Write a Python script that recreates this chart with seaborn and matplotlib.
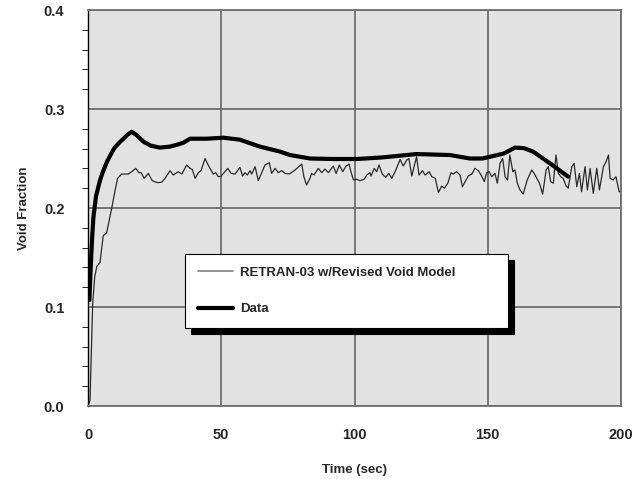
import pandas as pd
import seaborn as sns
import matplotlib.pyplot as plt
from matplotlib.ticker import MultipleLocator, FormatStrFormatter

# measured data (thick line)
data_t = [0.5, 1, 1.5, 2, 3, 4.5, 5.5, 7, 8.5, 10, 11.7, 13.3, 14.8, 16.4, 18.5,
          20.8, 23.5, 27, 30.7, 33.5, 35.8, 38.3, 44.6, 50.8, 57, 64.5, 72, 75.8,
          83.3, 92, 100.8, 110, 123.3, 135.8, 143.3, 148, 152, 156, 160.2, 163.5,
          167, 173.4, 180.2]
data_v = [0.107, 0.14, 0.168, 0.19, 0.212, 0.228, 0.236, 0.246, 0.254, 0.261, 0.266,
          0.270, 0.274, 0.277, 0.273, 0.267, 0.263, 0.261, 0.262, 0.264, 0.266,
          0.270, 0.270, 0.271, 0.269, 0.262, 0.257, 0.2535, 0.250, 0.2495,
          0.2495, 0.251, 0.2545, 0.2535, 0.250, 0.250, 0.2525, 0.255, 0.261,
          0.2605, 0.257, 0.245, 0.2316]

# RETRAN-03 calculation (thin line)
model_t = [0, 0.75, 1.75, 2.5, 3.3, 4.5, 5.7, 7, 8.9, 10.1, 11.1, 12.6, 15.1, 16.4,
           17.9, 19.1, 19.9, 21.1, 22.6, 24.1, 25.1, 26.1, 27.6, 28.9, 30.8, 32,
           33.9, 35.2, 37, 38.3, 39.1, 40.2, 41.4, 42.4, 43.9, 45.4, 47, 47.9, 48.9,
           49.9, 51.4, 52.4, 53.7, 55.2, 57, 58, 58.9, 59.8, 60.8, 61.4, 62.7, 63.9,
           65.2, 66.4, 68, 68.9, 70.2, 71.4, 72.7, 73.9, 75.5, 77.7, 80.2, 81, 82,
           83.3, 83.9, 84.8, 86.4, 87.7, 88.9, 90.2, 92, 93.1, 94.3, 95.6, 96.8, 98,
           98.5, 99.6, 100.8, 102, 103.6, 104.6, 105.8, 106.2, 107.4, 108.3, 109.2,
           110.4, 111.7, 112.9, 114, 115.4, 117.1, 118.3, 119.6, 120.4, 121.5, 122.5,
           123.3, 124.2, 125.5, 126.5, 128, 129, 130.3, 131.5, 132.7, 133.7, 135,
           136.2, 137, 138.3, 139.6, 140.5, 141.5, 142.7, 144, 145.2, 146.5, 147.7,
           148.7, 149.6, 150.5, 151.5, 152.7, 153.6, 154.6, 155.6, 156.5, 157.4,
           158.3, 159.4, 160.2, 161.1, 162.1, 163.3, 164.8, 166.5, 167.4, 168.4,
           169.4, 170.6, 171.9, 172.7, 173.6, 174.6, 175.6, 176.5, 177.4, 178.3,
           179.4, 180.2, 181.5, 182.4, 183.4, 184.4, 185.2, 186.5, 187.4, 188.4,
           189.6, 190.9, 191.9, 193.4, 194.4, 195.3, 195.9, 197, 198.1, 199.3, 200]
model_v = [0.0, 0.006, 0.104, 0.13, 0.141, 0.145, 0.172, 0.175, 0.200, 0.217, 0.230,
           0.2343, 0.2343, 0.2367, 0.240, 0.2357, 0.2357, 0.230, 0.235, 0.2276,
           0.2265, 0.2256, 0.226, 0.230, 0.2377, 0.2333, 0.2367, 0.2343, 0.2434,
           0.240, 0.239, 0.230, 0.2357, 0.2377, 0.250, 0.2417, 0.2343, 0.2357,
           0.2316, 0.232, 0.2367, 0.240, 0.235, 0.2343, 0.241, 0.2323, 0.2357,
           0.2333, 0.2377, 0.2343, 0.2417, 0.2276, 0.2357, 0.2434, 0.2458, 0.235,
           0.240, 0.2357, 0.2377, 0.235, 0.2343, 0.2384, 0.2444, 0.2316, 0.2232,
           0.230, 0.235, 0.2333, 0.240, 0.2357, 0.2394, 0.2357, 0.2424, 0.235,
           0.2434, 0.2367, 0.2424, 0.2444, 0.238, 0.2283, 0.229, 0.2276, 0.229,
           0.2333, 0.2357, 0.2323, 0.240, 0.2367, 0.2434, 0.2343, 0.231, 0.235,
           0.230, 0.2377, 0.249, 0.2424, 0.2485, 0.250, 0.2323, 0.2434, 0.2518,
           0.2333, 0.2377, 0.2333, 0.2367, 0.2316, 0.230, 0.2155, 0.2222, 0.220,
           0.225, 0.2357, 0.2343, 0.2367, 0.2333, 0.2215, 0.2266, 0.2323, 0.2343,
           0.240, 0.2377, 0.2323, 0.2266, 0.2357, 0.2367, 0.2316, 0.235, 0.225,
           0.245, 0.250, 0.2316, 0.2283, 0.2535, 0.2367, 0.2384, 0.225, 0.2182,
           0.2141, 0.2283, 0.2384, 0.235, 0.230, 0.225, 0.2141, 0.2384, 0.2418,
           0.2266, 0.225, 0.2535, 0.235, 0.2316, 0.230, 0.2222, 0.220, 0.2417,
           0.245, 0.2215, 0.235, 0.2165, 0.2417, 0.2182, 0.240, 0.2148, 0.240,
           0.2182, 0.2417, 0.2468, 0.2535, 0.230, 0.2283, 0.2316, 0.2165, 0.2165]

labels = ["RETRAN-03 w/Revised Void Model", "Data"]

model_df = pd.DataFrame({"Time": model_t, "Void": model_v})
data_df = pd.DataFrame({"Time": data_t, "Void": data_v})

sns.set_style("white")
plt.rcParams["font.family"] = ["Liberation Sans", "DejaVu Sans"]
plt.rcParams["font.weight"] = "bold"

fig = plt.figure(figsize=(6.43, 4.79), dpi=100)
ax = fig.add_axes([0.1369, 0.1524, 0.8289, 0.8267])
ax.set_facecolor("#e2e2e2")

sns.lineplot(data=model_df, x="Time", y="Void", ax=ax, color="#2a2a2a",
             lw=0.9, label=labels[0], sort=False)
sns.lineplot(data=data_df, x="Time", y="Void", ax=ax, color="black",
             lw=3, label=labels[1], sort=False)
for ln in ax.lines:
    ln.set_solid_joinstyle("round")

ax.set_xlim(0, 200)
ax.set_ylim(0, 0.4)
ax.xaxis.set_major_locator(MultipleLocator(50))
ax.yaxis.set_major_locator(MultipleLocator(0.1))
ax.yaxis.set_minor_locator(MultipleLocator(0.02))
ax.yaxis.set_major_formatter(FormatStrFormatter("%.1f"))
ax.grid(True, which="major", color="#6e6e6e", lw=1.3)
ax.set_axisbelow(True)
for side in ["top", "right", "bottom"]:
    ax.spines[side].set_color("#6e6e6e")
    ax.spines[side].set_linewidth(1.3)
ax.spines["left"].set_color("black")
ax.spines["left"].set_linewidth(1.0)

ax.tick_params(axis="both", which="both", direction="out", color="black",
               labelsize=10.5)
ax.tick_params(axis="y", which="major", length=4, pad=13)
ax.tick_params(axis="y", which="minor", length=4, left=True)
ax.tick_params(axis="x", which="major", length=4, pad=12)

ax.set_xlabel("Time (sec)", fontsize=9.5, fontweight="bold", labelpad=16)
ax.set_ylabel("Void Fraction", fontsize=9.5, fontweight="bold", labelpad=10)

leg = ax.legend(loc="upper left", bbox_to_anchor=(0.182, 0.205, 0.606, 0.179),
                mode="expand", fancybox=False, framealpha=1, edgecolor="black",
                fontsize=9.5, handlelength=2.7, labelspacing=1.85, borderpad=0.95,
                borderaxespad=0, handletextpad=0.5,
                shadow={"ox": 4.5, "oy": -4.5, "facecolor": "black",
                        "edgecolor": "black", "alpha": 1})
leg.get_frame().set_linewidth(0.8)
leg.legend_handles[0].set_color("#808080")
leg.legend_handles[0].set_linewidth(1.2)

fig.savefig("out.png", dpi=100)
